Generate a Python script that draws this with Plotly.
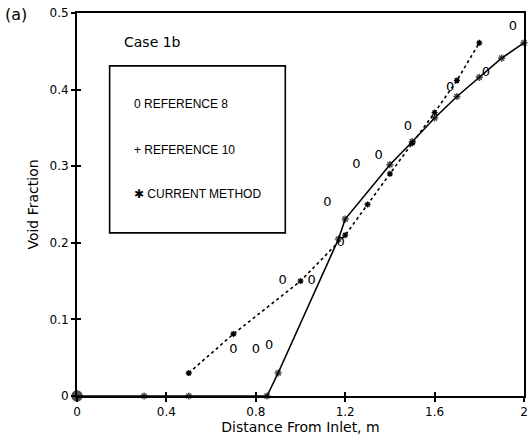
import plotly.graph_objects as go

# ---- data ----
ref8_x = [0.70, 0.80, 0.86, 0.92, 1.05, 1.12, 1.18, 1.25, 1.35, 1.48, 1.67, 1.83, 1.95]
ref8_y = [0.060, 0.060, 0.065, 0.150, 0.150, 0.252, 0.200, 0.302, 0.313, 0.352, 0.402, 0.422, 0.482]

ref10_x = [0.5, 0.7, 1.0, 1.2, 1.3, 1.4, 1.5, 1.6, 1.7, 1.8]
ref10_y = [0.030, 0.081, 0.150, 0.210, 0.250, 0.290, 0.330, 0.370, 0.412, 0.461]

cur_x = [0.0, 0.3, 0.5, 0.85, 0.9, 1.17, 1.2, 1.4, 1.5, 1.6, 1.7, 1.8, 1.9, 2.0]
cur_y = [0.0, 0.0, 0.0, 0.0, 0.030, 0.205, 0.231, 0.302, 0.332, 0.363, 0.391, 0.416, 0.441, 0.461]

x_ticks = [0, 0.4, 0.8, 1.2, 1.6, 2.0]
x_tick_labels = ["0", "0.4", "0.8", "1.2", "1.6", "2"]
y_ticks = [0, 0.1, 0.2, 0.3, 0.4, 0.5]
y_tick_labels = ["0", "0.1", "0.2", "0.3", "0.4", "0.5"]

legend_labels = ["0 REFERENCE 8", "+ REFERENCE 10", "\u2731 CURRENT METHOD"]

FONT = "DejaVu Sans"

fig = go.Figure()

# Reference 8: "0" characters
fig.add_trace(go.Scatter(
    x=ref8_x, y=ref8_y, mode="text", text=["0"] * len(ref8_x),
    textposition="middle center",
    textfont=dict(family=FONT, size=13, color="#000000"),
    showlegend=False, cliponaxis=False,
))

# Reference 10: dotted line with small markers
fig.add_trace(go.Scatter(
    x=ref10_x, y=ref10_y, mode="lines+markers",
    line=dict(color="black", width=1.6, dash="dot"),
    marker=dict(symbol="asterisk-open", size=5, color="black",
                line=dict(color="black", width=1.4)),
    showlegend=False, cliponaxis=False,
))

# Current method: solid line with asterisks, big dot at origin
syms = ["circle"] + ["asterisk-open"] * (len(cur_x) - 1)
sizes = [10] + [6] * (len(cur_x) - 1)
fig.add_trace(go.Scatter(
    x=cur_x, y=cur_y, mode="lines+markers",
    line=dict(color="black", width=1.6),
    marker=dict(symbol=syms, size=sizes, color="black",
                line=dict(color="black", width=1.5)),
    showlegend=False, cliponaxis=False,
))

# dummy trace to make the overlay (inner tick) axes render
fig.add_trace(go.Scatter(x=[], y=[], xaxis="x2", yaxis="y2", showlegend=False))

axis_common = dict(
    showgrid=False, zeroline=False, showline=True, linecolor="black",
    linewidth=1.8, mirror=True, ticks="outside", ticklen=4, tickwidth=1.5,
    tickcolor="black",
    tickfont=dict(family=FONT, size=12, color="black"),
)

fig.update_layout(
    width=530, height=442,
    margin=dict(l=77, r=2, t=13, b=46),
    paper_bgcolor="white", plot_bgcolor="white",
    xaxis=dict(range=[0, 2], tickvals=x_ticks, ticktext=x_tick_labels,
               title=dict(text="Distance From Inlet, m", standoff=4,
                          font=dict(family=FONT, size=14, color="black")),
               **axis_common),
    yaxis=dict(range=[0, 0.5], tickvals=y_ticks, ticktext=y_tick_labels,
               title=dict(text="Void Fraction", standoff=8,
                          font=dict(family=FONT, size=14, color="black")),
               **axis_common),
    xaxis2=dict(range=[0, 2], overlaying="x", tickvals=x_ticks, showticklabels=False,
                ticks="inside", ticklen=4, tickwidth=1.5, tickcolor="black",
                showgrid=False, zeroline=False, showline=False),
    yaxis2=dict(range=[0, 0.5], overlaying="y", tickvals=y_ticks, showticklabels=False,
                ticks="inside", ticklen=4, tickwidth=1.5, tickcolor="black",
                showgrid=False, zeroline=False, showline=False),
    showlegend=False,
)

# legend box
fig.add_shape(type="rect", xref="paper", yref="paper",
              x0=0.073, x1=0.466, y0=0.426, y1=0.862,
              line=dict(color="black", width=1.6), fillcolor="rgba(0,0,0,0)")

legend_y = [0.762, 0.642, 0.527]
for lab, yy in zip(legend_labels, legend_y):
    fig.add_annotation(xref="paper", yref="paper", x=0.122, y=yy, text=lab,
                       showarrow=False, xanchor="left", yanchor="middle",
                       font=dict(family="Liberation Sans", size=12, color="black"))

fig.add_annotation(xref="paper", yref="paper", x=0.100, y=0.925, text="Case 1b",
                   showarrow=False, xanchor="left", yanchor="middle",
                   font=dict(family=FONT, size=14, color="black"))
fig.add_annotation(xref="paper", yref="paper", x=-0.165, y=0.995, text="(a)",
                   showarrow=False, xanchor="left", yanchor="middle",
                   font=dict(family=FONT, size=16, color="black"))

fig.write_html("out.html")
